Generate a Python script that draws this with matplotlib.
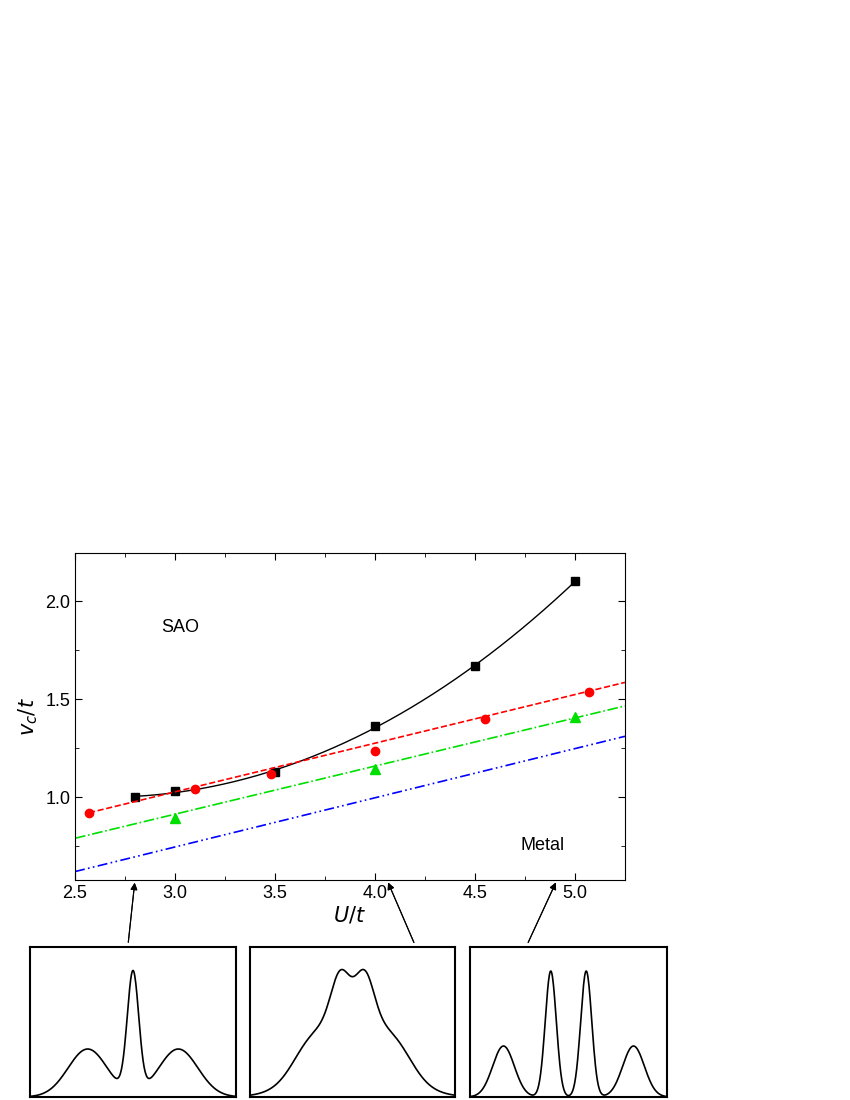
import numpy as np
import matplotlib.pyplot as plt

plt.rcParams['font.family'] = 'Liberation Sans'

# black squares (SAO boundary)
sq_U = [2.8, 3.0, 3.5, 4.0, 4.5, 5.0]
sq_v = [1.00, 1.03, 1.13, 1.36, 1.67, 2.10]
# red circles
ci_U = [2.57, 3.1, 3.48, 4.0, 4.55, 5.07]
ci_v = [0.92, 1.04, 1.12, 1.235, 1.40, 1.535]
# green triangles
tr_U = [3.0, 4.0, 5.0]
tr_v = [0.895, 1.145, 1.41]
# straight lines (endpoints)
red_line_U = [2.57, 5.25]
red_line_v = [0.92, 1.585]
green_line_U = [2.5, 5.25]
green_line_v = [0.79, 1.465]
blue_line_U = [2.5, 5.25]
blue_line_v = [0.62, 1.31]

# inset spectra: peak centres, widths, heights
insets = [
    ([0.28, 0.72, 0.5], [0.095, 0.095, 0.028], [0.32, 0.32, 0.8]),
    ([0.5, 0.44, 0.56, 0.28, 0.72], [0.18, 0.045, 0.045, 0.08, 0.08], [0.55, 0.3, 0.3, 0.12, 0.12]),
    ([0.17, 0.83, 0.41, 0.59], [0.055, 0.055, 0.028, 0.028], [0.34, 0.34, 0.84, 0.84]),
]

W, H = 850, 1100
fig = plt.figure(figsize=(8.5, 11), dpi=100)

def rect(x0, y0, x1, y1):
    return [x0 / W, 1 - y1 / H, (x1 - x0) / W, (y1 - y0) / H]

ax = fig.add_axes(rect(75, 553, 625, 880))
c = np.polyfit(sq_U, sq_v, 3)
uu = np.linspace(sq_U[0], sq_U[-1], 200)
ax.plot(uu, np.polyval(c, uu), 'k-', lw=1)
ax.plot(sq_U, sq_v, 'ks', ms=6)
ax.plot(red_line_U, red_line_v, '--', color='red', lw=1.2)
ax.plot(ci_U, ci_v, 'o', color='red', ms=6)
ax.plot(green_line_U, green_line_v, '-.', color='#00e000', lw=1.2)
ax.plot(tr_U, tr_v, '^', color='#00e000', ms=7)
ax.plot(blue_line_U, blue_line_v, linestyle=(0, (6, 2, 1, 2, 1, 2)), color='blue', lw=1.2)
ax.set_xlim(2.5, 5.25)
ax.set_ylim(0.577, 2.245)
ax.set_xticks([2.5, 3.0, 3.5, 4.0, 4.5, 5.0])
ax.set_xticks(np.arange(2.75, 5.25, 0.5), minor=True)
ax.set_yticks([1.0, 1.5, 2.0])
ax.set_yticks([0.75, 1.25, 1.75], minor=True)
ax.xaxis.set_major_formatter('{x:.1f}')
ax.yaxis.set_major_formatter('{x:.1f}')
ax.tick_params(direction='in', length=5, labelsize=13)
ax.tick_params(which='minor', direction='in', length=3)
ax.tick_params(top=True, right=True, which='both', labeltop=False, labelright=False)
ax.set_xlabel('$U/t$', fontsize=15, labelpad=2)
ax.set_ylabel('$v_c/t$', fontsize=15, labelpad=4)
ax.text(2.93, 1.84, 'SAO', fontsize=13)
ax.text(4.73, 0.73, 'Metal', fontsize=13)

boxes = [(30, 947, 236, 1097), (250, 947, 455, 1097), (470, 947, 667, 1097)]
x = np.linspace(0, 1, 400)
for (x0, y0, x1, y1), (cs, ws, hs) in zip(boxes, insets):
    a = fig.add_axes(rect(x0, y0, x1, y1))
    y = sum(h * np.exp(-(x - m) ** 2 / (2 * s ** 2)) for m, s, h in zip(cs, ws, hs))
    a.plot(x, y, 'k-', lw=1.2)
    a.set_xlim(0, 1)
    a.set_ylim(0, 1.0)
    a.set_xticks([])
    a.set_yticks([])
    for sp in a.spines.values():
        sp.set_linewidth(1.5)

arrows = [((128, 945), (135, 880)), ((415, 945), (387, 880)), ((527, 945), (557, 880))]
for (tx, ty), (hx, hy) in arrows:
    fig.add_artist(plt.annotate('', xy=(hx / W, 1 - hy / H), xytext=(tx / W, 1 - ty / H),
                                xycoords='figure fraction', textcoords='figure fraction',
                                arrowprops=dict(arrowstyle='-|>', color='k', lw=0.8)))

fig.savefig('out.png', dpi=100)
